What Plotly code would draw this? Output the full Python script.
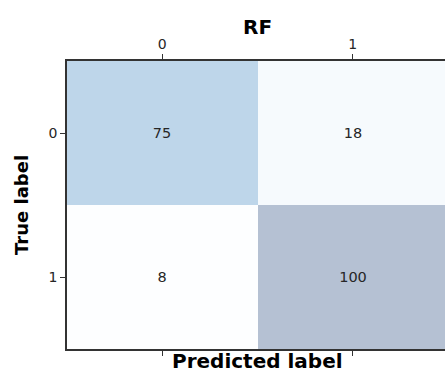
import plotly.graph_objects as go

# Confusion matrix for the RF classifier
model_name = "RF"
class_labels = ["0", "1"]
counts = [[75, 18],
          [8, 100]]

# ColorBrewer "Blues" anchors, laid at 30% opacity over a white background
blues = ["#f7fbff", "#deebf7", "#c6dbef", "#9ecae1", "#6baed6",
         "#4292c6", "#2171b5", "#08519c", "#08306b"]


def fade(hex_color, alpha=0.3):
    r, g, b = (int(hex_color[i:i + 2], 16) for i in (1, 3, 5))
    mix = lambda c: round(255 * (1 - alpha) + c * alpha)
    return f"rgb({mix(r)},{mix(g)},{mix(b)})"


colorscale = [[i / (len(blues) - 1), fade(c)] for i, c in enumerate(blues)]
flat = [v for row in counts for v in row]

W, H = 445, 374
L, T, B = 67, 61, 25
plot_w = W - L
cell_px = 190.5
x_hi = -0.5 + plot_w / cell_px

ink = "#262626"
line_col = "#333333"
font_family = "DejaVu Sans"

fig = go.Figure(
    go.Heatmap(
        z=counts,
        x=[0, 1],
        y=[0, 1],
        zmin=min(flat),
        zmax=max(flat),
        colorscale=colorscale,
        showscale=False,
        texttemplate="%{z}",
        textfont=dict(family=font_family, size=14.5, color=ink),
        hoverinfo="skip",
    )
)

axis_style = dict(
    tickvals=[0, 1],
    ticktext=class_labels,
    ticks="outside",
    ticklen=5,
    tickwidth=1,
    tickcolor=line_col,
    showline=True,
    linecolor=line_col,
    linewidth=1.5,
    showgrid=False,
    zeroline=False,
    tickfont=dict(family=font_family, size=14, color=ink),
)

fig.update_xaxes(side="top", range=[-0.5, x_hi], mirror="ticks", **axis_style)
fig.update_yaxes(range=[1.5, -0.5], **axis_style)

center_x = (257.5 - L) / plot_w

fig.add_annotation(text="<b>" + model_name + "</b>", xref="paper", yref="paper",
                   x=center_x, y=1, yshift=34, xanchor="center", yanchor="middle",
                   showarrow=False,
                   font=dict(family=font_family, size=20, color="#000000"))
fig.add_annotation(text="<b>Predicted label</b>", xref="paper", yref="paper",
                   x=center_x, y=0, yshift=-12, xanchor="center", yanchor="middle",
                   showarrow=False,
                   font=dict(family=font_family, size=20, color="#000000"))
fig.add_annotation(text="<b>True label</b>", xref="paper", yref="paper",
                   x=0, xshift=-(L - 21), y=0.5, xanchor="center", yanchor="middle",
                   textangle=-90, showarrow=False,
                   font=dict(family=font_family, size=18, color="#000000"))

fig.update_layout(
    width=W,
    height=H,
    margin=dict(l=L, r=0, t=T, b=B),
    paper_bgcolor="white",
    plot_bgcolor="white",
)

fig.write_html("out.html")
